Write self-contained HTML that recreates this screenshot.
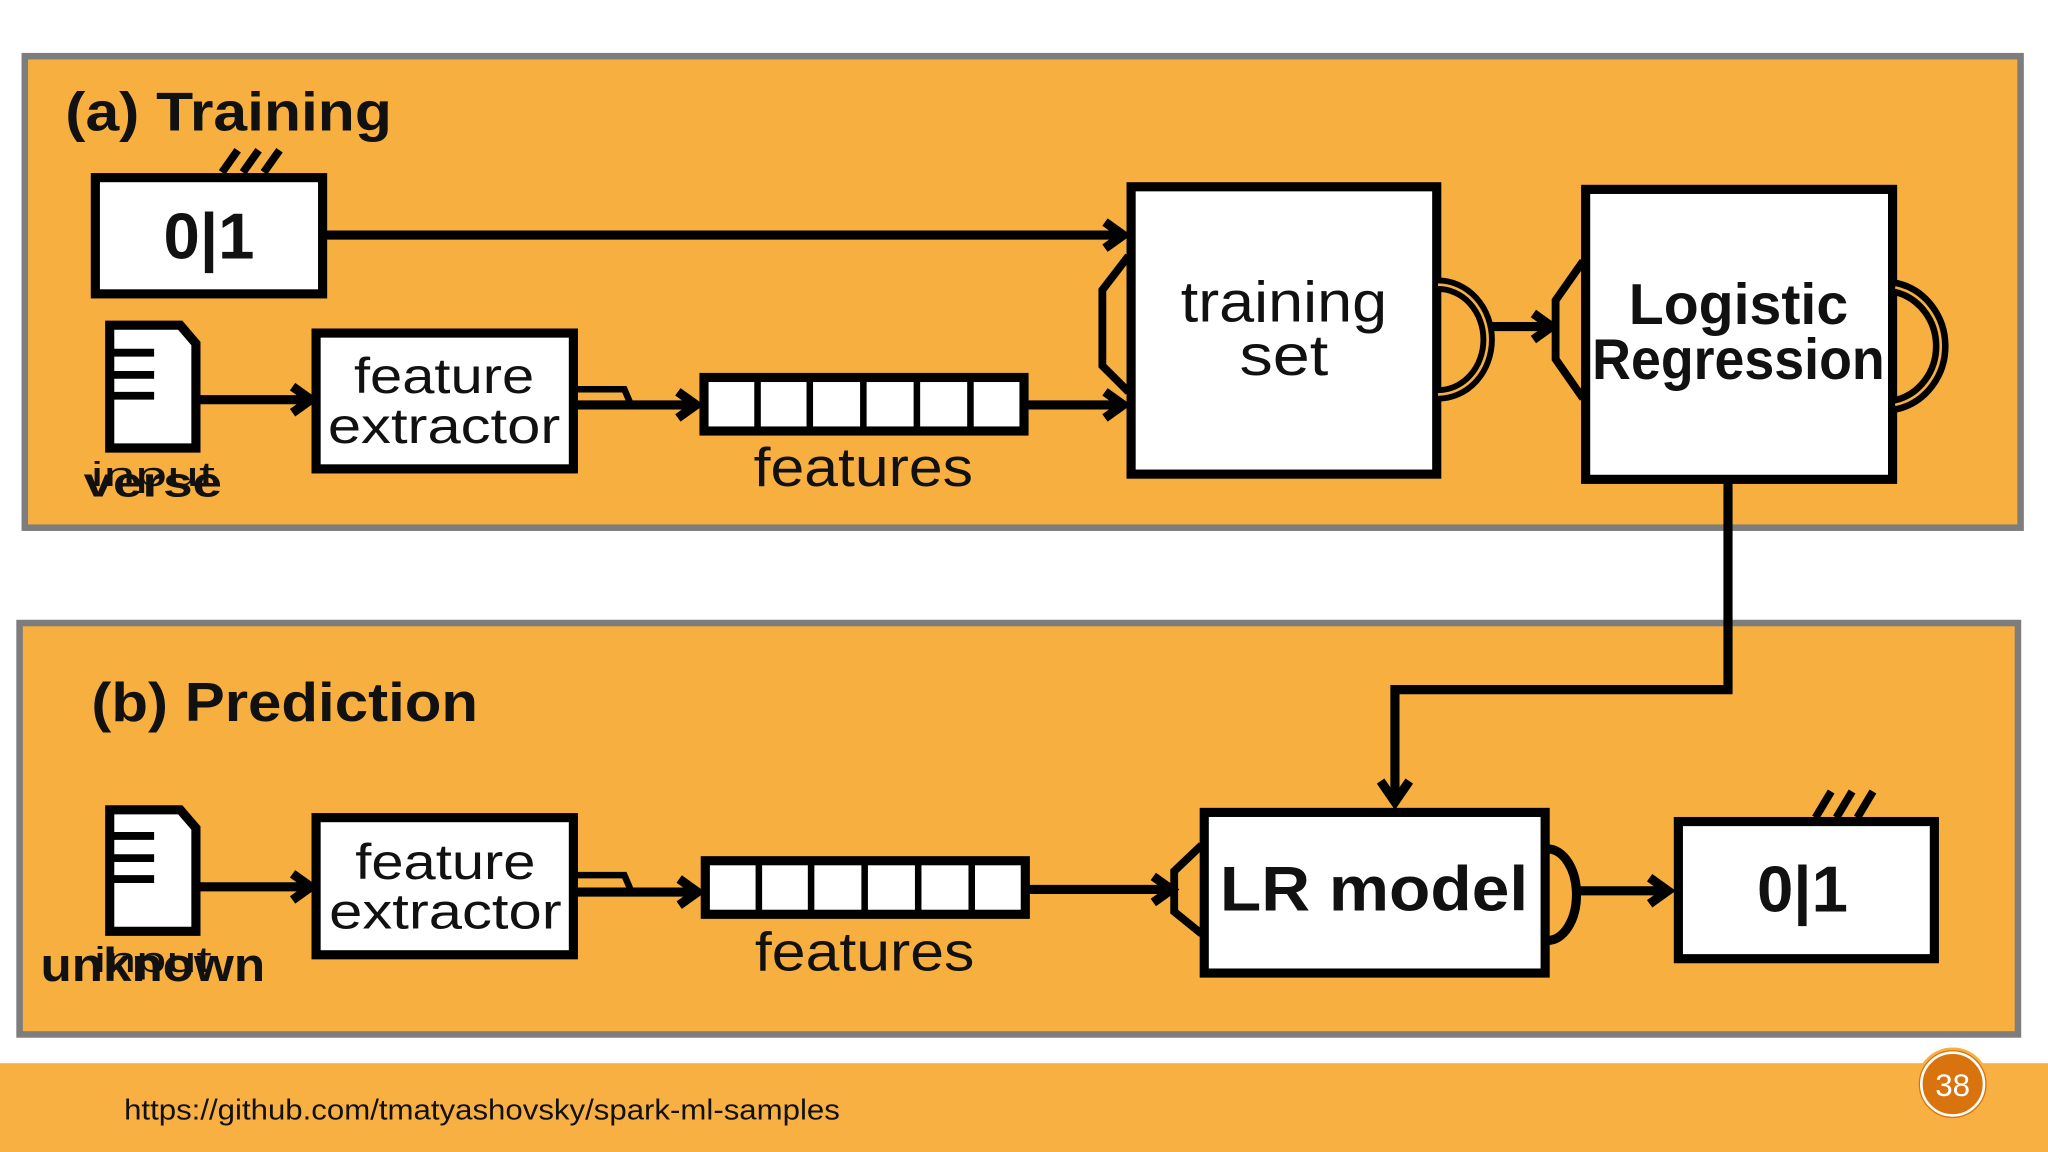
<!DOCTYPE html>
<html><head><meta charset="utf-8"><style>
html,body{margin:0;padding:0;background:#fff;}
svg{display:block;}
text{font-family:"Liberation Sans Narrow","Liberation Sans",sans-serif;fill:#111;}
</style></head><body>
<svg width="2048" height="1152" viewBox="0 0 1568 882" xmlns="http://www.w3.org/2000/svg">
<rect width="1568" height="882" fill="#fff"/>
<rect x="19" y="43" width="1528" height="361" fill="#f7b040" stroke="#7d7d7d" stroke-width="5"/>
<rect x="15" y="477" width="1530" height="315" fill="#f7b040" stroke="#7d7d7d" stroke-width="5"/>
<rect x="0" y="814" width="1568" height="68" fill="#f8b043"/>
<text x="95" y="857" font-size="22" textLength="548" lengthAdjust="spacingAndGlyphs" style="font-family:'Liberation Sans',sans-serif" fill="#111">https://github.com/tmatyashovsky/spark-ml-samples</text>
<circle cx="1495" cy="830" r="27" fill="#d9730d" stroke="#f8b043" stroke-width="2"/>
<circle cx="1495" cy="830" r="24" fill="none" stroke="#fff" stroke-width="2"/>
<text x="1495" y="839" font-size="24" text-anchor="middle" style="fill:#fff;font-family:'Liberation Sans',sans-serif">38</text>

<g stroke="#000" stroke-width="7" fill="none">
<rect x="73" y="136" width="174" height="89" fill="#fff"/>
<path d="M170 132 L182 115 M186 132 L198 115 M202 132 L214 115" stroke-width="6"/>
<line x1="249" y1="180" x2="858" y2="180"/>
<path d="M846 170 L860 180 L846 190"/>
<path d="M84 249 L138 249 L150 263 L150 343 L84 343 Z" fill="#fff"/>
<path d="M86 270 H118 M86 287 H118 M86 303 H118" stroke-width="6"/>
<line x1="152" y1="306" x2="236" y2="306"/>
<path d="M224 296 L238 306 L224 316"/>
<rect x="242" y="255" width="197" height="104" fill="#fff"/>
<path d="M441 298 H478 L484 312" stroke-width="5"/>
<line x1="441" y1="310" x2="531" y2="310"/>
<path d="M519 300 L533 310 L519 320"/>
<rect x="539" y="289" width="245" height="41" fill="#fff"/>
<path d="M580 289 V330 M620 289 V330 M661 289 V330 M702 289 V330 M743 289 V330" stroke-width="5"/>
<line x1="786" y1="310" x2="858" y2="310"/>
<path d="M846 300 L860 310 L846 320"/>
<rect x="866" y="143" width="234" height="220" fill="#fff"/>
<path d="M864 196 L844 222 L844 280 L864 300" stroke-width="6"/>
<path d="M1101 218 A38 42 0 0 1 1101 302" stroke-width="11"/>
<path d="M1101 218 A38 42 0 0 1 1101 302" stroke-width="2" stroke="#f7b040"/>
<line x1="1140" y1="250" x2="1186" y2="250"/>
<path d="M1174 240 L1188 250 L1174 260"/>
<rect x="1214" y="145" width="235" height="222" fill="#fff"/>
<path d="M1212 200 L1191 230 L1191 275 L1212 305" stroke-width="6"/>
<path d="M1451 220 A44 46 0 0 1 1451 310" stroke-width="12"/>
<path d="M1451 220 A44 46 0 0 1 1451 310" stroke-width="2" stroke="#f7b040"/>
<path d="M1323 368 V528 H1068 V612"/>
<path d="M1057 598 L1068 614 L1079 598"/>

<path d="M84 620 L138 620 L150 634 L150 713 L84 713 Z" fill="#fff"/>
<path d="M86 640 H118 M86 657 H118 M86 673 H118" stroke-width="6"/>
<line x1="152" y1="679" x2="236" y2="679"/>
<path d="M224 669 L238 679 L224 689"/>
<rect x="242" y="626" width="197" height="105" fill="#fff"/>
<path d="M441 670 H478 L484 684" stroke-width="5"/>
<line x1="441" y1="683" x2="532" y2="683"/>
<path d="M520 673 L534 683 L520 693"/>
<rect x="540" y="659" width="245" height="41" fill="#fff"/>
<path d="M581 659 V700 M621 659 V700 M662 659 V700 M703 659 V700 M744 659 V700" stroke-width="5"/>
<line x1="787" y1="681" x2="895" y2="681"/>
<path d="M883 671 L897 681 L883 691"/>
<rect x="922" y="622" width="261" height="123" fill="#fff"/>
<path d="M920 647 L899 667 L899 698 L920 715" stroke-width="6"/>
<path d="M1185 650 A22 35 0 0 1 1185 720" stroke-width="7"/>
<line x1="1207" y1="682" x2="1275" y2="682"/>
<path d="M1263 672 L1277 682 L1263 692"/>
<rect x="1285" y="629" width="196" height="105" fill="#fff"/>
<path d="M1390 626 L1402 606 M1406 626 L1418 606 M1422 626 L1434 606" stroke-width="6"/>
</g>

<text x="50" y="100" font-size="42" font-weight="bold" textLength="250" lengthAdjust="spacingAndGlyphs">(a)  Training</text>
<text x="160" y="198" font-size="50" font-weight="bold" text-anchor="middle">0|1</text>
<text x="117" y="380" font-size="32" font-weight="bold" text-anchor="middle" textLength="106" lengthAdjust="spacingAndGlyphs">verse</text>
<text x="117" y="372" font-size="26" text-anchor="middle" textLength="95" lengthAdjust="spacingAndGlyphs">input</text>
<text x="340" y="301" font-size="38" text-anchor="middle" textLength="138" lengthAdjust="spacingAndGlyphs">feature</text>
<text x="340" y="339" font-size="38" text-anchor="middle" textLength="178" lengthAdjust="spacingAndGlyphs">extractor</text>
<text x="661" y="372" font-size="42" text-anchor="middle" textLength="168" lengthAdjust="spacingAndGlyphs">features</text>
<text x="983" y="246" font-size="44" text-anchor="middle" textLength="158" lengthAdjust="spacingAndGlyphs">training</text>
<text x="983" y="287" font-size="44" text-anchor="middle" textLength="68" lengthAdjust="spacingAndGlyphs">set</text>
<text x="1331" y="248" font-size="44" font-weight="bold" text-anchor="middle" textLength="168" lengthAdjust="spacingAndGlyphs">Logistic</text>
<text x="1331" y="290" font-size="44" font-weight="bold" text-anchor="middle" textLength="224" lengthAdjust="spacingAndGlyphs">Regression</text>

<text x="70" y="552" font-size="42" font-weight="bold" textLength="296" lengthAdjust="spacingAndGlyphs">(b)  Prediction</text>
<text x="117" y="751" font-size="36" font-weight="bold" text-anchor="middle" textLength="172" lengthAdjust="spacingAndGlyphs">unknown</text>
<text x="117" y="744" font-size="28" text-anchor="middle" textLength="90" lengthAdjust="spacingAndGlyphs">input</text>
<text x="341" y="673" font-size="38" text-anchor="middle" textLength="138" lengthAdjust="spacingAndGlyphs">feature</text>
<text x="341" y="711" font-size="38" text-anchor="middle" textLength="178" lengthAdjust="spacingAndGlyphs">extractor</text>
<text x="662" y="743" font-size="42" text-anchor="middle" textLength="168" lengthAdjust="spacingAndGlyphs">features</text>
<text x="1052" y="697" font-size="48" font-weight="bold" text-anchor="middle" textLength="236" lengthAdjust="spacingAndGlyphs">LR  model</text>
<text x="1380" y="698" font-size="50" font-weight="bold" text-anchor="middle">0|1</text>
</svg>
</body></html>
